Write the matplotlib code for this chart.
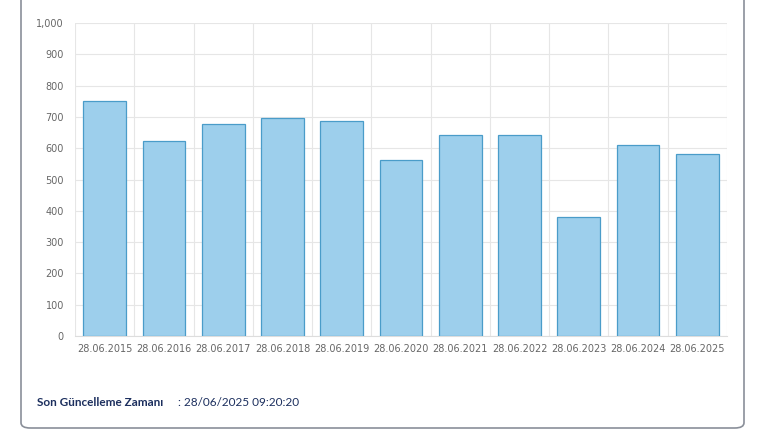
import matplotlib
matplotlib.use("Agg")
import matplotlib.pyplot as plt
from matplotlib.patches import FancyBboxPatch
from matplotlib.ticker import FuncFormatter, MultipleLocator

categories = ["28.06.2015","28.06.2016","28.06.2017","28.06.2018","28.06.2019","28.06.2020",
              "28.06.2021","28.06.2022","28.06.2023","28.06.2024","28.06.2025"]
values = [750, 622, 678, 697, 687, 563, 641, 643, 381, 609, 580]

fig = plt.figure(figsize=(7.70, 4.37), dpi=100)
# card border
card = FancyBboxPatch((21/770, 9/437), (744-21)/770, (437-9-9)/437 + 0.05,
                      boxstyle="round,pad=0,rounding_size=0.012", transform=fig.transFigure,
                      fill=False, edgecolor="#8a8f99", linewidth=1.2)
fig.patches.append(card)

ax = fig.add_axes([75/770, 1-336/437, (727-75)/770, (336-23)/437])
x = list(range(len(categories)))
bars = ax.bar(x, values, width=0.72, color="#9dcfec", edgecolor="#4a9cc9", linewidth=0.9, zorder=3)
ax.set_xlim(-0.5, len(categories)-0.5)
ax.set_ylim(0, 1000)
ax.yaxis.set_major_locator(MultipleLocator(100))
ax.yaxis.set_major_formatter(FuncFormatter(lambda v, p: f"{int(v):,}"))
ax.set_xticks(x)
ax.set_xticklabels(categories)
ax.set_xticks([i-0.5 for i in range(len(categories)+1)], minor=True)
ax.grid(False)
ax.grid(True, which="minor", axis="x", color="#e6e6e6", linewidth=0.8)
ax.grid(True, which="major", axis="y", color="#e6e6e6", linewidth=0.8)
ax.tick_params(axis="both", which="both", length=0, labelsize=7, labelcolor="#666666", pad=6)
ax.tick_params(axis="y", pad=8)
for s in ["top", "right", "left"]:
    ax.spines[s].set_visible(False)
ax.spines["bottom"].set_color("#dddddd")

fig.text(37/770, 1-402/437, "Son Güncelleme Zamanı", fontsize=8.5, fontweight="bold",
         color="#1c2f5e", va="center", family="Lato")
fig.text(178/770, 1-402/437, ": 28/06/2025 09:20:20", fontsize=8.5, color="#1c2f5e",
         va="center", family="Lato")
fig.savefig("out.png", dpi=100)
